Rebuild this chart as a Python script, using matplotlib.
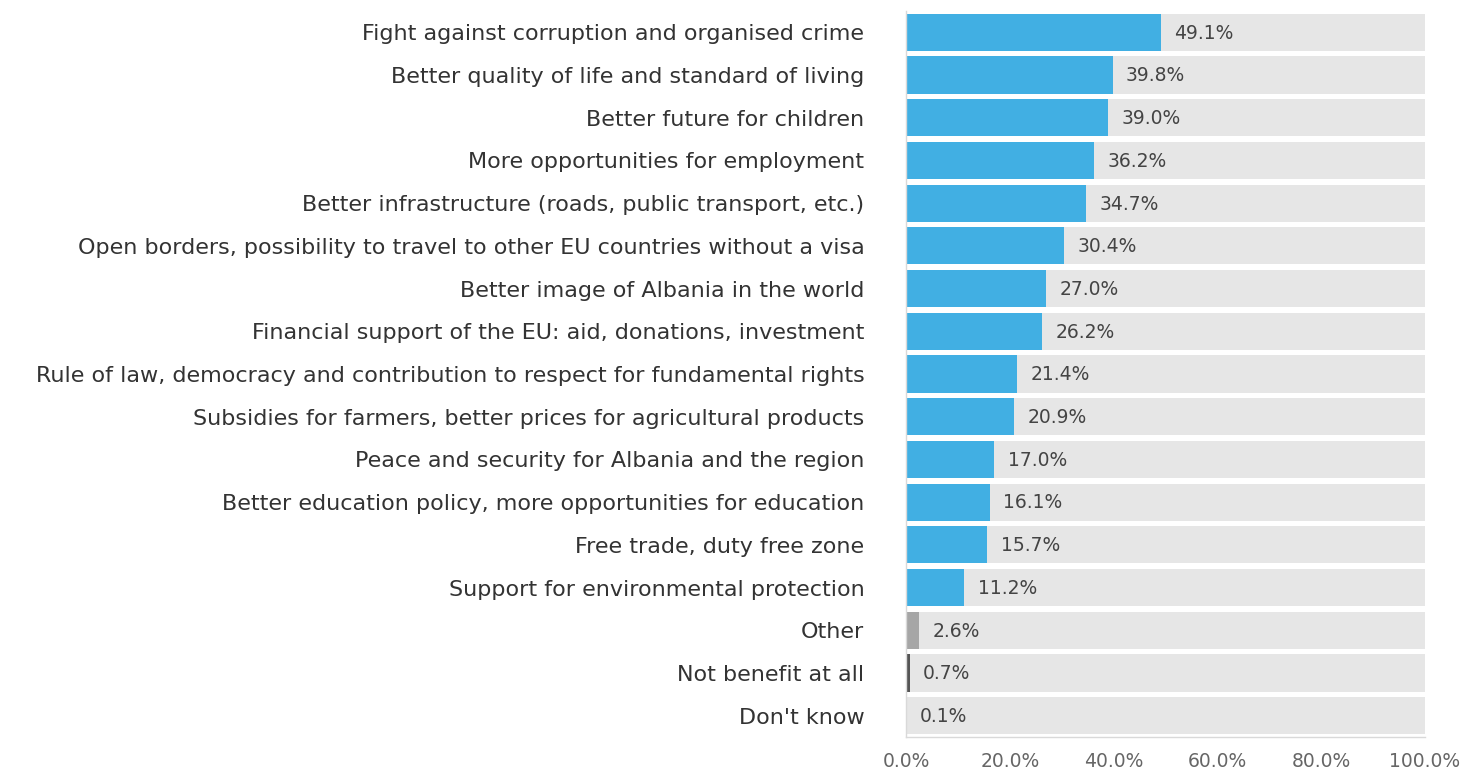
import numpy as np
import matplotlib.pyplot as plt
from matplotlib.ticker import FuncFormatter

# Survey answers, top to bottom
categories = [
    "Fight against corruption and organised crime",
    "Better quality of life and standard of living",
    "Better future for children",
    "More opportunities for employment",
    "Better infrastructure (roads, public transport, etc.)",
    "Open borders, possibility to travel to other EU countries without a visa",
    "Better image of Albania in the world",
    "Financial support of the EU: aid, donations, investment",
    "Rule of law, democracy and contribution to respect for fundamental rights",
    "Subsidies for farmers, better prices for agricultural products",
    "Peace and security for Albania and the region",
    "Better education policy, more opportunities for education",
    "Free trade, duty free zone",
    "Support for environmental protection",
    "Other",
    "Not benefit at all",
    "Don't know",
]
values = [49.1, 39.8, 39.0, 36.2, 34.7, 30.4, 27.0, 26.2, 21.4, 20.9,
          17.0, 16.1, 15.7, 11.2, 2.6, 0.7, 0.1]

blue = "#41afe3"
bar_colors = [blue] * 14 + ["#a6a6a6", "#555555", "#555555"]

plt.rcParams['font.family'] = ['DejaVu Sans']

fig = plt.figure(figsize=(14.63, 7.72), dpi=100)
ax = fig.add_axes([906 / 1463, 1 - 737 / 772, 519 / 1463, 726 / 772])

y = np.arange(len(categories))
h = 0.87
ax.barh(y, [100] * len(y), height=h, color="#e6e6e6", zorder=1)
ax.barh(y, values, height=h, color=bar_colors, zorder=2)

for yi, v in zip(y, values):
    ax.text(v + 2.6, yi + 0.02, f"{v:.1f}%", va="center", ha="left",
            fontsize=13.5, color="#444444", zorder=3)

ax.set_xlim(0, 100)
ax.set_ylim(len(y) - 0.5, -0.5)
ax.set_yticks(y)
ax.set_yticklabels(categories, fontsize=16, color="#333333")
ax.tick_params(axis="y", length=0, pad=30)
ax.set_xticks([0, 20, 40, 60, 80, 100])
ax.xaxis.set_major_formatter(FuncFormatter(lambda x, p: f"{x:.1f}%"))
ax.tick_params(axis="x", length=0, pad=11, labelsize=13.5, labelcolor="#666666")

for s in ["top", "right"]:
    ax.spines[s].set_visible(False)
for s in ["left", "bottom"]:
    ax.spines[s].set_color("#d9d9d9")
    ax.spines[s].set_linewidth(1)

fig.savefig("out.png", dpi=100, facecolor="white")
